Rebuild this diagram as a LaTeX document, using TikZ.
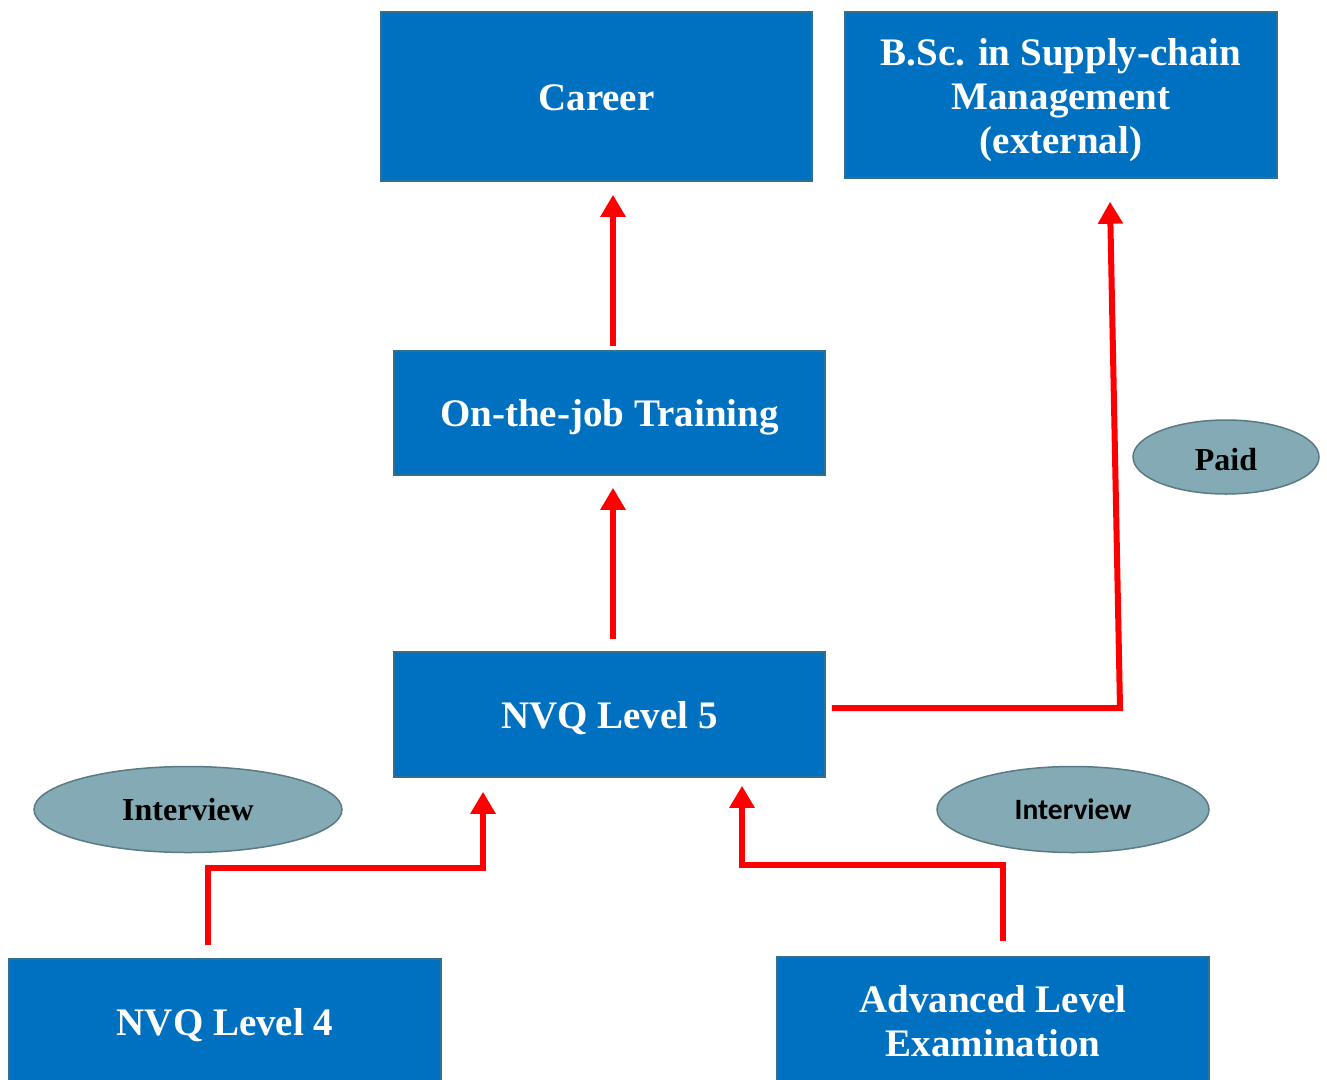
\documentclass[tikz,border=0pt]{standalone}
\usepackage{fontspec}
\setmainfont{Liberation Serif}
\newfontfamily\carlito{Carlito}
\usetikzlibrary{arrows.meta,shapes.geometric}
\definecolor{boxblue}{HTML}{0070C0}
\definecolor{boxline}{HTML}{31708F}
\definecolor{ellfill}{HTML}{84ABB5}
\definecolor{ellline}{HTML}{5A7A85}
\tikzset{
  box/.style={draw=boxline, line width=1.5pt, fill=boxblue, text=white, font=\bfseries\fontsize{39}{44}\selectfont, align=center, inner sep=0pt},
  oneline/.style={text height=27pt, text depth=0pt},
  oval/.style={ellipse, draw=ellline, line width=1.5pt, fill=ellfill, text=black, font=\bfseries\fontsize{32}{36}\selectfont, inner sep=0pt, text height=21pt, text depth=0pt},
  redarr/.style={draw=red, line width=6pt, line cap=butt, line join=miter, -{Triangle[width=24pt,length=22pt]}}
}
\begin{document}
\begin{tikzpicture}[x=1pt,y=-1pt]
\useasboundingbox (0,0) rectangle (1327,1079);
\clip (0,0) rectangle (1327,1079);
\fill[white] (0,0) rectangle (1327,1079);
% boxes
\node[box, oneline, minimum width=431pt, minimum height=169pt] (career) at (596.5,96.5) {Career};
\node[box, minimum width=432pt, minimum height=166pt] (bsc) at (1061,95) {\rule{0pt}{38pt}B.Sc. in Supply-chain\\Management\\(external)};
\node[box, oneline, minimum width=431pt, minimum height=124pt] (ojt) at (609.5,413) {On-the-job Training};
\node[box, oneline, minimum width=431pt, minimum height=125pt] (nvq5) at (609.5,714.5) {NVQ Level 5};
\node[box, oneline, minimum width=432pt, minimum height=126pt] (nvq4) at (225,1022) {NVQ Level 4};
\node[box, minimum width=432pt, minimum height=128pt] (adv) at (993,1021) {Advanced Level\\Examination};
% ovals
\node[oval, minimum width=308pt, minimum height=86pt] (int1) at (188,809.5) {Interview};
\node[oval, minimum width=272pt, minimum height=86pt, font=\carlito\bfseries\fontsize{29.5}{34}\selectfont, text height=19pt] (int2) at (1073,809.5) {Interview};
\node[oval, minimum width=186pt, minimum height=74pt, text height=27pt] (paid) at (1226,457) {Paid};
% connectors
\draw[redarr] ([xshift=3.5pt,yshift=4pt]ojt.north) -- ([xshift=16.5pt,yshift=-13pt]career.south);
\draw[redarr] ([xshift=3.5pt,yshift=12pt]nvq5.north) -- ([xshift=3.5pt,yshift=-12pt]ojt.south);
\coordinate (c1) at (208,868);
\coordinate (c2) at (483,868);
\draw[redarr] ([yshift=13pt]nvq4.north -| c1) -- (c1) -- (c2) -- ([yshift=-14pt]nvq5.south -| c2);
\coordinate (c3) at (1003,865);
\coordinate (c4) at (742,865);
\draw[redarr] ([yshift=15pt]adv.north -| c3) -- (c3) -- (c4) -- ([yshift=-8pt]nvq5.south -| c4);
\coordinate (c5) at (1120,708);
\draw[redarr] ([xshift=6pt]nvq5.east |- c5) -- (c5) -- ([yshift=-23pt]bsc.south -| 1110,0);
\end{tikzpicture}
\end{document}
